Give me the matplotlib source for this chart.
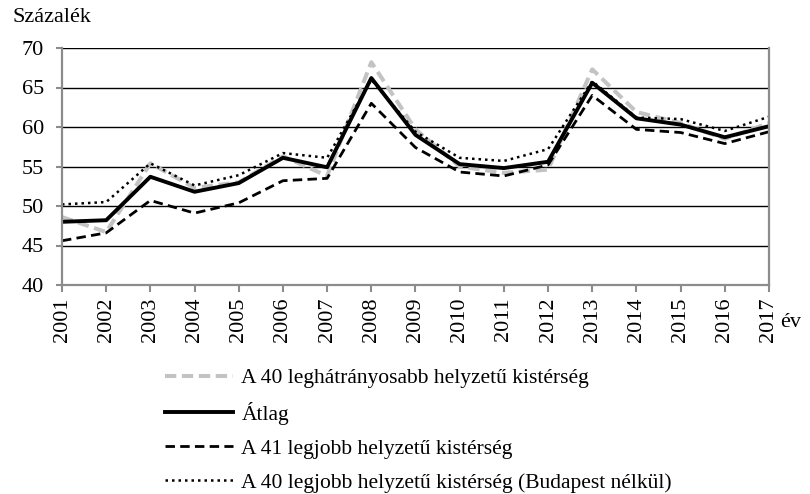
import numpy as np
import matplotlib.pyplot as plt

plt.rcParams['font.family'] = ['Liberation Serif', 'DejaVu Serif']

years = list(range(2001, 2018))
worst_40 = [48.6, 46.7, 55.4, 52.3, 53.0, 56.3, 53.8, 68.2, 59.7, 55.0, 54.2, 54.6, 67.3, 61.9, 60.5, 58.5, 60.5]
average = [48.0, 48.2, 53.7, 51.8, 52.9, 56.1, 54.9, 66.2, 59.0, 55.3, 54.8, 55.6, 65.6, 61.1, 60.3, 58.7, 60.1]
best_41 = [45.6, 46.6, 50.7, 49.1, 50.4, 53.2, 53.5, 63.0, 57.4, 54.3, 53.8, 55.2, 64.0, 59.7, 59.3, 57.9, 59.4]
best_40_nobp = [50.2, 50.5, 55.4, 52.6, 53.9, 56.7, 56.1, 66.0, 59.4, 56.1, 55.7, 57.2, 65.8, 61.2, 61.0, 59.5, 61.3]

labels = ['A 40 leghátrányosabb helyzetű kistérség', 'Átlag',
          'A 41 legjobb helyzetű kistérség',
          'A 40 legjobb helyzetű kistérség (Budapest nélkül)']

W, H = 810, 494
fig = plt.figure(figsize=(W / 100, H / 100), dpi=100)
# plot area in pixels: x 62..769, y 48..285
ax = fig.add_axes([62 / W, 1 - 285 / H, (769 - 62) / W, (285 - 48) / H])

x = np.arange(len(years))
ax.plot(x, worst_40, color='#c3c3c3', lw=2.9, ls=(0, (2.8, 1.4)), label=labels[0])
ax.plot(x, average, color='black', lw=2.8, label=labels[1])
ax.plot(x, best_41, color='black', lw=2.0, ls=(0, (3.4, 1.9)), label=labels[2])
ax.plot(x, best_40_nobp, color='black', lw=1.8, ls=(0, (1, 1.6)), label=labels[3])

ax.set_xlim(0, len(years) - 1)
ax.set_ylim(40, 70)
ax.set_yticks(range(40, 71, 5))
ax.set_xticks(x)
ax.set_xticklabels([str(y) for y in years], rotation=90)
ax.yaxis.grid(True, color='black', lw=1.0)
ax.set_axisbelow(True)
ax.tick_params(axis='x', length=5, width=1.5, color='#8c8c8c', labelsize=16, pad=4)
ax.tick_params(axis='y', length=4, width=1.5, color='#8c8c8c', labelsize=16, pad=9)
for s in ['left', 'bottom', 'right']:
    ax.spines[s].set_color('#8c8c8c')
    ax.spines[s].set_linewidth(1.6)
ax.spines['top'].set_visible(False)

fig.text(12 / W, 1 - 18 / H, 'Százalék', fontsize=16, va='center')
fig.text(780 / W, 1 - 322 / H, 'év', fontsize=16, va='center')

fig.legend(loc='upper left', bbox_to_anchor=(165 / W, 1 - 368 / H), frameon=False,
           fontsize=15.5, handlelength=3.15, handletextpad=0.4, labelspacing=0.64,
           borderpad=0, borderaxespad=0)

fig.savefig('out.png', dpi=100)
